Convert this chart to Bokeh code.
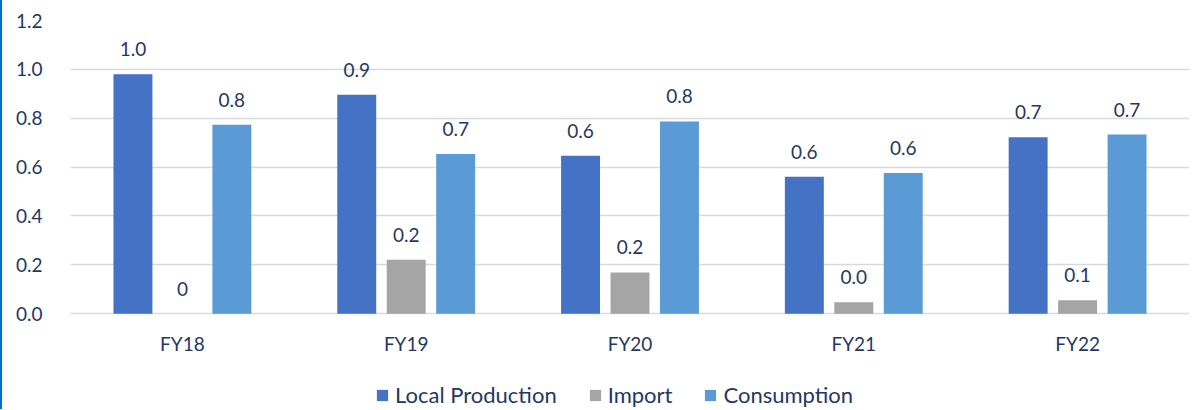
from bokeh.plotting import figure
from bokeh.models import ColumnDataSource, Range1d, Legend, LegendItem, FixedTicker, PrintfTickFormatter
from bokeh.transform import dodge
from bokeh.core.properties import value
from bokeh.embed import file_html
from bokeh.resources import INLINE

years = ["FY18", "FY19", "FY20", "FY21", "FY22"]
local_production = [0.98, 0.896, 0.646, 0.561, 0.722]
imports = [0.0, 0.221, 0.169, 0.047, 0.055]
consumption = [0.773, 0.654, 0.787, 0.576, 0.733]
y_ticks = [0.0, 0.2, 0.4, 0.6, 0.8, 1.0, 1.2]

def fmt(v):
    return "0" if v == 0 else f"{v:.1f}"

src = ColumnDataSource(dict(
    years=years,
    base=[0.0] * len(years),
    local=local_production, imp=imports, cons=consumption,
    local_t=[fmt(v) for v in local_production],
    imp_t=[fmt(v) for v in imports],
    cons_t=[fmt(v) for v in consumption],
))

FONT = "Lato"
TXT = "#1f3864"
FS = "19px"

# frame extends below zero to hold category labels and legend
p = figure(x_range=years, y_range=Range1d(-0.392, 1.2),
           frame_width=1119, frame_height=389,
           min_border_left=68, min_border_top=20, min_border_right=4, min_border_bottom=0,
           output_backend="svg", toolbar_location=None)
p.styles = {"border-left": "2px solid #0070c0"}
p.outline_line_color = None
p.xgrid.grid_line_color = None
p.ygrid.grid_line_color = "#d9d9d9"
p.ygrid.grid_line_width = 1.5
p.xaxis.visible = False

p.yaxis.ticker = FixedTicker(ticks=y_ticks)
p.yaxis.formatter = PrintfTickFormatter(format="%.1f")
ax = p.yaxis[0]
ax.axis_line_color = None
ax.major_tick_line_color = None
ax.minor_tick_line_color = None
ax.major_label_text_font = FONT
ax.major_label_text_font_size = FS
ax.major_label_text_color = TXT
ax.major_label_standoff = 22

W = 0.174
off = 0.221
colors = ["#4472c4", "#a5a5a5", "#5b9bd5"]
r1 = p.vbar(x=dodge("years", -off, range=p.x_range), top="local", width=W, source=src, fill_color=colors[0], line_color=None)
r2 = p.vbar(x=dodge("years", 0, range=p.x_range), top="imp", width=W, source=src, fill_color=colors[1], line_color=None)
r3 = p.vbar(x=dodge("years", off, range=p.x_range), top="cons", width=W, source=src, fill_color=colors[2], line_color=None)

for o, col, t in [(-off, "local", "local_t"), (0, "imp", "imp_t"), (off, "cons", "cons_t")]:
    p.text(x=dodge("years", o, range=p.x_range), y=col, text=t, source=src,
           text_align="center", text_baseline="middle", y_offset=-25,
           text_font=value(FONT), text_font_size=FS, text_color=TXT)

# category labels under the zero line
p.text(x="years", y="base", text="years", source=src,
       text_align="center", text_baseline="middle", y_offset=30,
       text_font=value(FONT), text_font_size=FS, text_color=TXT)

legend = Legend(items=[LegendItem(label="Local Production", renderers=[r1]),
                       LegendItem(label="Import", renderers=[r2]),
                       LegendItem(label="Consumption", renderers=[r3])],
                orientation="horizontal", location=(305, 1),
                glyph_width=14, glyph_height=14, label_standoff=6, spacing=31,
                label_height=20, padding=0, margin=0, border_line_color=None,
                background_fill_alpha=0,
                label_text_font=FONT, label_text_font_size="22px", label_text_color=TXT)
p.add_layout(legend)

open("out.html", "w").write(file_html(p, INLINE))
